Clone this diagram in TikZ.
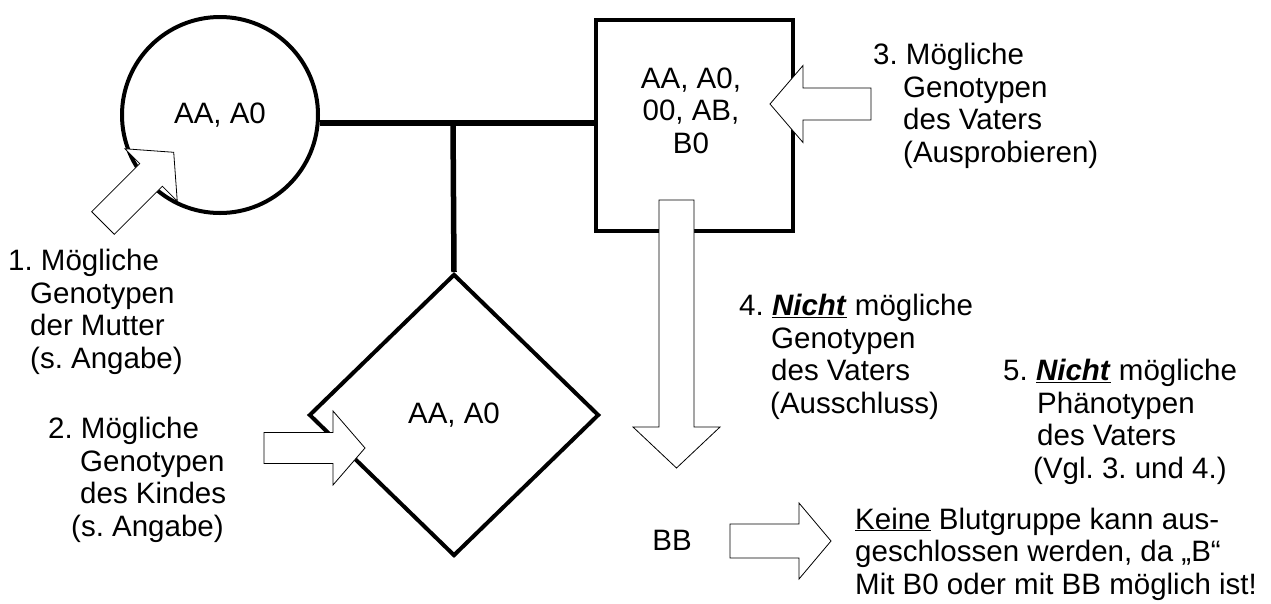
\documentclass[tikz,border=0pt]{standalone}
\usepackage{fontspec}
\setmainfont{Liberation Sans}
\frenchspacing
\usetikzlibrary{shapes.geometric}

\begin{document}
\begin{tikzpicture}[x=1pt,y=-1pt,
		every node/.style={font=\fontsize{29.5}{32.5}\selectfont, inner sep=0pt},
		person/.style={draw, line width=4pt},
		famline/.style={line width=5.5pt},
		hollow/.style={draw, fill=white, line width=0.8pt},
		note/.style={align=left, anchor=base west}]
		
		\useasboundingbox (0,0) rectangle (1271,603);
		
		\node (mother) at (220,115) [person, circle, minimum size=196pt] {AA, A0};
		\node (father) at (694.5,125.5) [person, minimum width=197pt, minimum height=211pt] {};
		\node (fathergen) at (691,153) [align=center, anchor=base] {AA, A0,\\ 00, AB,\\ B0};
		\node (child) at (454,415) [person, diamond, minimum width=290pt, minimum height=282pt] {AA, A0};
		\node (bb) at (672,540) {BB};
		
		\coordinate (junction) at (453,123);
		\draw[famline] (mother.east |- junction) -- (father.west |- junction);
		\draw[famline] (junction) -- (child.north);
		
		\foreach \px/\py/\ang/\len/\shaft/\head/\tip in {103/223/45/100/16/37/32, 264/448/0/101/15.5/37/32, 871/104/180/101/16/38.5/33, 730/541/0/101/17/38/32, 676.5/200/-90/268/17.5/43.5/41} {
			\begin{scope}[shift={(\px,\py)}, rotate=\ang]
				\draw[hollow] (0,-\shaft) -- (\len-\tip,-\shaft) -- (\len-\tip,-\head) -- (\len,0) -- (\len-\tip,\head) -- (\len-\tip,\shaft) -- (0,\shaft) -- cycle;
			\end{scope}
		}
		
		\node (step1) at (8,368) [note] {1. Mögliche\\ \hspace*{22pt}Genotypen\\ \hspace*{22pt}der Mutter\\ \hspace*{22pt}(s. Angabe)};
		\node (step2) at (48,536) [note] {2. Mögliche\\ \hspace*{32pt}Genotypen\\ \hspace*{32pt}des Kindes\\ \hspace*{23pt}(s. Angabe)};
		\node (step3) at (873,162) [note] {3. Mögliche\\ \hspace*{30pt}Genotypen\\ \hspace*{30pt}des Vaters\\ \hspace*{30pt}(Ausprobieren)};
		\node (step4) at (739,413) [note] {4. \underline{\textbf{\textit{Nicht}}} mögliche\\ \hspace*{32pt}Genotypen\\ \hspace*{32pt}des Vaters\\ \hspace*{31pt}(Ausschluss)};
		\node (step5) at (1003,478) [note] {5. \underline{\textbf{\textit{Nicht}}} mögliche\\ \hspace*{34pt}Phänotypen\\ \hspace*{34pt}des Vaters\\ \hspace*{30pt}(Vgl. 3. und 4.)};
		\node (result) at (855,594) [note] {\underline{Keine} Blutgruppe kann aus-\\ geschlossen werden, da „B“\\ Mit B0 oder mit BB möglich ist!};
		
	\end{tikzpicture}
\end{document}
